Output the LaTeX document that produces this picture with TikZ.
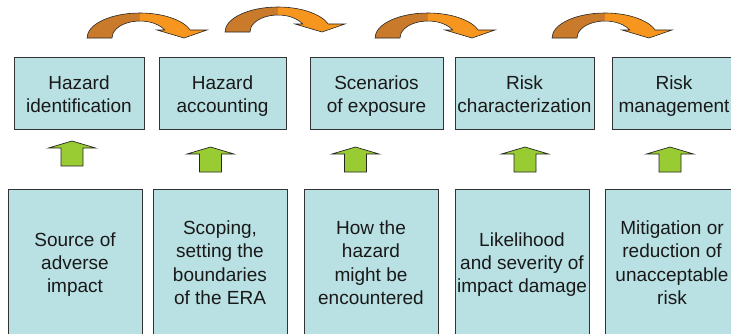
\documentclass[tikz,border=0pt]{standalone}
\usepackage{fontspec}
\setmainfont{Liberation Sans}
\definecolor{boxfill}{HTML}{B9E0E3}
\definecolor{orLight}{HTML}{F7961E}
\definecolor{orDark}{HTML}{C97A2B}
\definecolor{grn}{HTML}{99CC33}
\newcommand\tops{\rule{0pt}{20pt}}
\begin{document}
\begin{tikzpicture}[x=1pt,y=1pt,
  box/.style={draw=black!80, line width=0.9pt, fill=boxfill, inner sep=0pt,
    align=center, text=black!90,
    execute at end node={\rule[-5pt]{0pt}{5pt}}},
  topbox/.style={box, minimum height=72pt, font=\fontsize{19}{23}\selectfont},
  botbox/.style={box, minimum height=146pt, font=\fontsize{19}{23.4}\selectfont},
  curvarrow/.pic={
    \fill[orDark] (-53pt,0) arc[start angle=180,end angle=90,x radius=53pt,y radius=25pt]
      -- (0,17pt) arc[start angle=90,end angle=180,x radius=28pt,y radius=17pt] -- cycle;
    \fill[orLight] (0,25pt) arc[start angle=90,end angle=18.7,x radius=53pt,y radius=25pt]
      -- (67pt,8pt) -- (44pt,0) -- (17pt,8pt) -- (24.7pt,8pt)
      arc[start angle=28,end angle=90,x radius=28pt,y radius=17pt] -- cycle;
    \draw[line width=0.6pt, draw=black!85] (-53pt,0)
      arc[start angle=180,end angle=18.7,x radius=53pt,y radius=25pt]
      -- (67pt,8pt) -- (44pt,0) -- (17pt,8pt) -- (24.7pt,8pt)
      arc[start angle=28,end angle=180,x radius=28pt,y radius=17pt] -- cycle;
  },
  uparrow/.pic={
    \draw[draw=black!85, fill=grn, line width=0.7pt] (0,0) -- (23.5pt,-7pt) -- (11pt,-7pt)
      -- (11pt,-25pt) -- (-11pt,-25pt) -- (-11pt,-7pt) -- (-23.5pt,-7pt) -- cycle;
  }]
\useasboundingbox (0,0) rectangle (731,-333);
\clip (0,0) rectangle (731,-333);

% top boxes
\node[topbox, minimum width=130pt] (t1) at (79,-93) {\tops Hazard\\identification};
\node[topbox, minimum width=127pt] (t2) at (222.5,-93) {\tops Hazard\\accounting};
\node[topbox, minimum width=133pt] (t3) at (376.5,-93) {\tops Scenarios\\of exposure};
\node[topbox, minimum width=139pt] (t4) at (524.5,-93) {\tops Risk\\characterization};
\node[topbox, minimum width=124pt] (t5) at (674,-93) {\tops Risk\\management};

% bottom boxes
\node[botbox, minimum width=134pt] (b1) at (75,-262) {\tops Source of\\adverse\\impact};
\node[botbox, minimum width=134pt] (b2) at (220,-262) {\tops Scoping,\\setting the\\boundaries\\of the ERA};
\node[botbox, minimum width=134pt] (b3) at (371,-262) {\tops How the\\hazard\\might be\\encountered};
\node[botbox, minimum width=134pt] (b4) at (522,-262) {\tops Likelihood\\and severity of\\impact damage};
\node[botbox, minimum width=134pt] (b5) at (672,-262) {\tops Mitigation or\\reduction of\\unacceptable\\risk};

% curved orange arrows
\pic at (140,-38) {curvarrow};
\pic at (278,-32) {curvarrow};
\pic at (428,-38) {curvarrow};
\pic at (605,-38) {curvarrow};

% green up arrows
\pic at (72,-141) {uparrow};
\pic at (210.5,-147) {uparrow};
\pic at (355.5,-147) {uparrow};
\pic at (525,-147) {uparrow};
\pic at (670,-147) {uparrow};
\end{tikzpicture}
\end{document}
